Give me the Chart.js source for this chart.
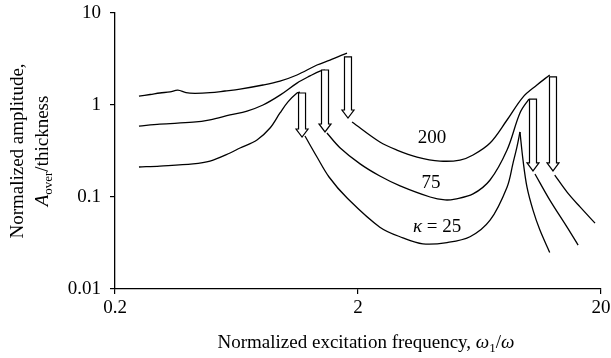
<!DOCTYPE html>
<html><head><meta charset="utf-8">
<script src="https://cdn.jsdelivr.net/npm/chart.js@4/dist/chart.umd.min.js"></script>
<style>html,body{margin:0;padding:0;background:#fff;}#wrap{width:611px;height:358px;}</style>
</head><body><div id="wrap"><canvas id="c" width="611" height="358"></canvas></div>
<script>
// ---- data ----
const xTicks = [0.2, 2, 20];
const yTicks = [0.01, 0.1, 1, 10];

const k200UpX  = [0.251,0.279,0.306,0.337,0.363,0.392,0.427,0.492,0.567,0.654,0.813,0.955,1.122,1.356,1.534,1.802];
const k200UpY  = [1.25,1.30,1.35,1.39,1.45,1.36,1.34,1.36,1.42,1.49,1.65,1.82,2.12,2.72,3.08,3.67];
const k200MidX = [1.89,2.46,2.89,3.50,4.35,5.26,5.95,6.99,8.21,9.55,10.9,12.3];
const k200MidY = [0.653,0.396,0.324,0.272,0.246,0.252,0.286,0.386,0.687,1.22,1.65,2.12];
const k200LowX = [12.9,14.5,16.4,18.9];
const k200LowY = [0.173,0.113,0.078,0.052];

const k75UpX  = [0.251,0.306,0.419,0.492,0.595,0.699,0.813,0.955,1.122,1.269,1.395,1.463];
const k75UpY  = [0.59,0.62,0.65,0.69,0.78,0.86,1.0,1.28,1.73,2.07,2.34,2.40];
const k75MidX = [1.49,1.69,2.04,2.46,2.98,3.96,4.56,5.01,5.95,6.99,8.21,9.28,10.1];
const k75MidY = [0.496,0.341,0.229,0.169,0.132,0.100,0.093,0.095,0.108,0.153,0.324,0.819,1.16];
const k75LowX = [10.7,12.3,14.5,16.1];
const k75LowY = [0.178,0.093,0.047,0.030];

const k25UpX   = [0.251,0.306,0.419,0.492,0.595,0.654,0.768,0.869,0.955,1.030,1.122,1.154];
const k25UpY   = [0.212,0.217,0.229,0.246,0.301,0.341,0.417,0.562,0.819,1.08,1.35,1.38];
const k25MidX  = [1.21,1.356,1.52,1.80,2.46,3.06,3.70,4.65,5.78,6.99,8.21,8.69,9.02,9.28];
const k25MidY  = [0.460,0.272,0.165,0.098,0.047,0.036,0.031,0.032,0.037,0.056,0.128,0.234,0.350,0.509];
const k25FallX = [9.28,9.55,9.92,10.5,11.2,12.3];
const k25FallY = [0.509,0.253,0.128,0.072,0.044,0.025];

// jump-down arrows: x position, top value, tip value
const arrowX   = [1.177, 1.463, 1.819, 10.5, 12.69];
const arrowTop = [1.35, 2.40, 3.33, 1.16, 2.02];
const arrowTip = [0.449, 0.509, 0.722, 0.192, 0.192];

// curve labels
const labelText = ['200', '75', 'κ = 25'];
const labelX = [4.03, 3.99, 4.23];
const labelY = [0.438, 0.142, 0.047];

// ---- chart ----
const FONT = '"Liberation Serif", "Times New Roman", serif';
const FS = 19;
function pts(xs, ys){ return xs.map((x,i)=>({x:x, y:ys[i]})); }
function curve(xs, ys){
  return {data: pts(xs, ys), borderColor:'#000', borderWidth:1.3, pointRadius:0,
          showLine:true, fill:false, tension:0.35};
}
const datasets = [
  curve(k200UpX,k200UpY), curve(k200MidX,k200MidY), curve(k200LowX,k200LowY),
  curve(k75UpX,k75UpY), curve(k75MidX,k75MidY), curve(k75LowX,k75LowY),
  curve(k25UpX,k25UpY), curve(k25MidX,k25MidY), curve(k25FallX,k25FallY)
];

function drawRuns(ctx, runs, cx, cy, size){
  const f = r => (r.i ? 'italic ' : '') + (r.sub ? Math.round(size*0.7) : size) + 'px ' + FONT;
  let w = 0;
  runs.forEach(r => { ctx.font = f(r); r.w = ctx.measureText(r.t).width; w += r.w; });
  let x = cx - w/2;
  ctx.textBaseline = 'middle'; ctx.textAlign = 'left'; ctx.fillStyle = '#000';
  runs.forEach(r => { ctx.font = f(r); ctx.fillText(r.t, x, cy + (r.sub ? size*0.28 : 0)); x += r.w; });
}

const annot = {
  id: 'annot',
  afterDatasetsDraw(chart){
    const ctx = chart.ctx, xs = chart.scales.x, ys = chart.scales.y;
    ctx.save();
    ctx.lineWidth = 1.2; ctx.strokeStyle = '#000'; ctx.fillStyle = '#fff';
    for (let i = 0; i < arrowX.length; i++){
      const cx = xs.getPixelForValue(arrowX[i]);
      const t = ys.getPixelForValue(arrowTop[i]);
      const b = ys.getPixelForValue(arrowTip[i]);
      const sw = 3.5, hw = 6, hl = 8;
      ctx.beginPath();
      ctx.moveTo(cx-sw, t); ctx.lineTo(cx+sw, t); ctx.lineTo(cx+sw, b-hl);
      ctx.lineTo(cx+hw, b-hl); ctx.lineTo(cx, b); ctx.lineTo(cx-hw, b-hl);
      ctx.lineTo(cx-sw, b-hl); ctx.closePath();
      ctx.fill(); ctx.stroke();
    }
    for (let i = 0; i < labelText.length; i++){
      const px = xs.getPixelForValue(labelX[i]), py = ys.getPixelForValue(labelY[i]);
      if (labelText[i].startsWith('κ')) {
        drawRuns(ctx, [{t:'κ', i:true}, {t:' = 25'}], px, py, FS);
      } else {
        drawRuns(ctx, [{t:labelText[i]}], px, py, FS);
      }
    }
    ctx.restore();
  },
  afterDraw(chart){
    const ctx = chart.ctx, a = chart.chartArea;
    ctx.save();
    drawRuns(ctx, [{t:'Normalized excitation frequency, '}, {t:'ω', i:true}, {t:'1', sub:true}, {t:'/'}, {t:'ω', i:true}],
             (a.left + a.right)/2 + 8, 343, FS);
    ctx.translate(0, 151);
    ctx.rotate(-Math.PI/2);
    drawRuns(ctx, [{t:'Normalized amplitude,'}], 0, 18, FS);
    drawRuns(ctx, [{t:'A', i:true}, {t:'over', sub:true}, {t:'/thickness'}], 0, 43, FS);
    ctx.restore();
  }
};

const axisCommon = {
  type: 'logarithmic',
  grid: {drawOnChartArea:false, drawTicks:true, tickLength:5, color:'#000', lineWidth:1.2},
  border: {display:true, color:'#000', width:1.3},
};

new Chart(document.getElementById('c'), {
  type: 'scatter',
  data: {datasets: datasets},
  plugins: [annot],
  options: {
    responsive:false, animation:false, events:[],
    plugins:{legend:{display:false}, tooltip:{enabled:false}},
    layout:{padding:{top:13, right:10, left:0, bottom:0}},
    scales:{
      x: Object.assign({}, axisCommon, {
        min:0.2, max:20,
        afterBuildTicks(s){ s.ticks = xTicks.map(v=>({value:v})); },
        afterFit(s){ s.height = 69; s.paddingLeft = 0; s.paddingRight = 0; },
        ticks:{callback:(v)=>String(v), font:{family:FONT, size:FS}, color:'#000', padding:3, maxRotation:0, autoSkip:false}
      }),
      y: Object.assign({}, axisCommon, {
        min:0.01, max:10,
        afterBuildTicks(s){ s.ticks = yTicks.map(v=>({value:v})); },
        afterFit(s){ s.width = 115; s.paddingTop = 0; s.paddingBottom = 0; },
        ticks:{callback:(v)=>String(v), font:{family:FONT, size:FS}, color:'#000', padding:9, autoSkip:false}
      })
    }
  }
});
</script></body></html>
